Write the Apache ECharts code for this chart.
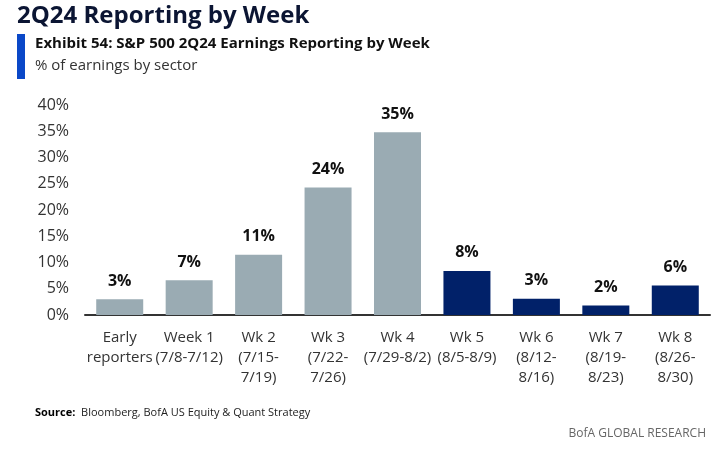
<!DOCTYPE html>
<html style="height: 100%">
<head>
<meta charset="utf-8">
<script src="https://cdn.jsdelivr.net/npm/echarts@6/dist/echarts.min.js"></script>
</head>
<body style="height: 100%; margin: 0; background: #fff">
<div id="container" style="width: 720px; height: 449px"></div>
<script type="text/javascript">
var categories = ['Early\nreporters', 'Week 1\n(7/8-7/12)', 'Wk 2\n(7/15-\n7/19)', 'Wk 3\n(7/22-\n7/26)',
    'Wk 4\n(7/29-8/2)', 'Wk 5\n(8/5-8/9)', 'Wk 6\n(8/12-\n8/16)', 'Wk 7\n(8/19-\n8/23)', 'Wk 8\n(8/26-\n8/30)'];
var values = [3.0, 6.6, 11.5, 24.3, 34.8, 8.4, 3.1, 1.8, 5.6];
var labels = ['3%', '7%', '11%', '24%', '35%', '8%', '3%', '2%', '6%'];
// first five weeks have reported (grey), rest still to come (navy)
var reported = [true, true, true, true, true, false, false, false, false];

var font = 'Open Sans';
var myChart = echarts.init(document.getElementById('container'));

var option = {
    backgroundColor: '#fff',
    animation: false,
    textStyle: { fontFamily: font },
    graphic: [
        { type: 'text', left: 17, top: 4, style: { text: '2Q24 Reporting by Week', font: 'bold 24px ' + font, fill: '#0b1533' } },
        { type: 'rect', shape: { x: 17, y: 34, width: 8, height: 45 }, style: { fill: '#0a48c8' } },
        { type: 'text', left: 35, top: 36, style: { text: 'Exhibit 54: S&P 500 2Q24 Earnings Reporting by Week', font: 'bold 15px ' + font, fill: '#111' } },
        { type: 'text', left: 35, top: 58, style: { text: '% of earnings by sector', font: '15px ' + font, fill: '#333' } },
        { type: 'text', left: 35, top: 407, style: {
            text: '{b|Source:}  Bloomberg, BofA US Equity & Quant Strategy',
            rich: { b: { font: 'bold 11px ' + font, fill: '#000' } },
            font: '11px ' + font, fill: '#222' } },
        { type: 'text', right: 14, top: 428, style: { text: 'BofA GLOBAL RESEARCH', font: '12px ' + font, fill: '#666' } }
    ],
    grid: { left: 85, right: 10, top: 105, bottom: 134 },
    xAxis: {
        type: 'category',
        data: categories,
        axisLine: { lineStyle: { color: '#333', width: 2 } },
        axisTick: { show: false },
        axisLabel: { color: '#333', fontSize: 15, lineHeight: 20, margin: 13, interval: 0 }
    },
    yAxis: {
        type: 'value',
        min: 0,
        max: 40,
        interval: 5,
        splitLine: { show: false },
        axisLine: { show: false },
        axisTick: { show: false },
        axisLabel: { color: '#333', fontSize: 16, margin: 16, formatter: '{value}%' }
    },
    series: [{
        type: 'bar',
        barWidth: 47,
        data: values.map(function (v, i) {
            return {
                value: v,
                itemStyle: { color: reported[i] ? '#9aabb3' : '#012169' },
                label: { formatter: labels[i] }
            };
        }),
        label: { show: true, position: 'top', distance: 10, color: '#111', fontSize: 16, fontWeight: 'bold' }
    }]
};
myChart.setOption(option, true);
</script>
</body>
</html>
